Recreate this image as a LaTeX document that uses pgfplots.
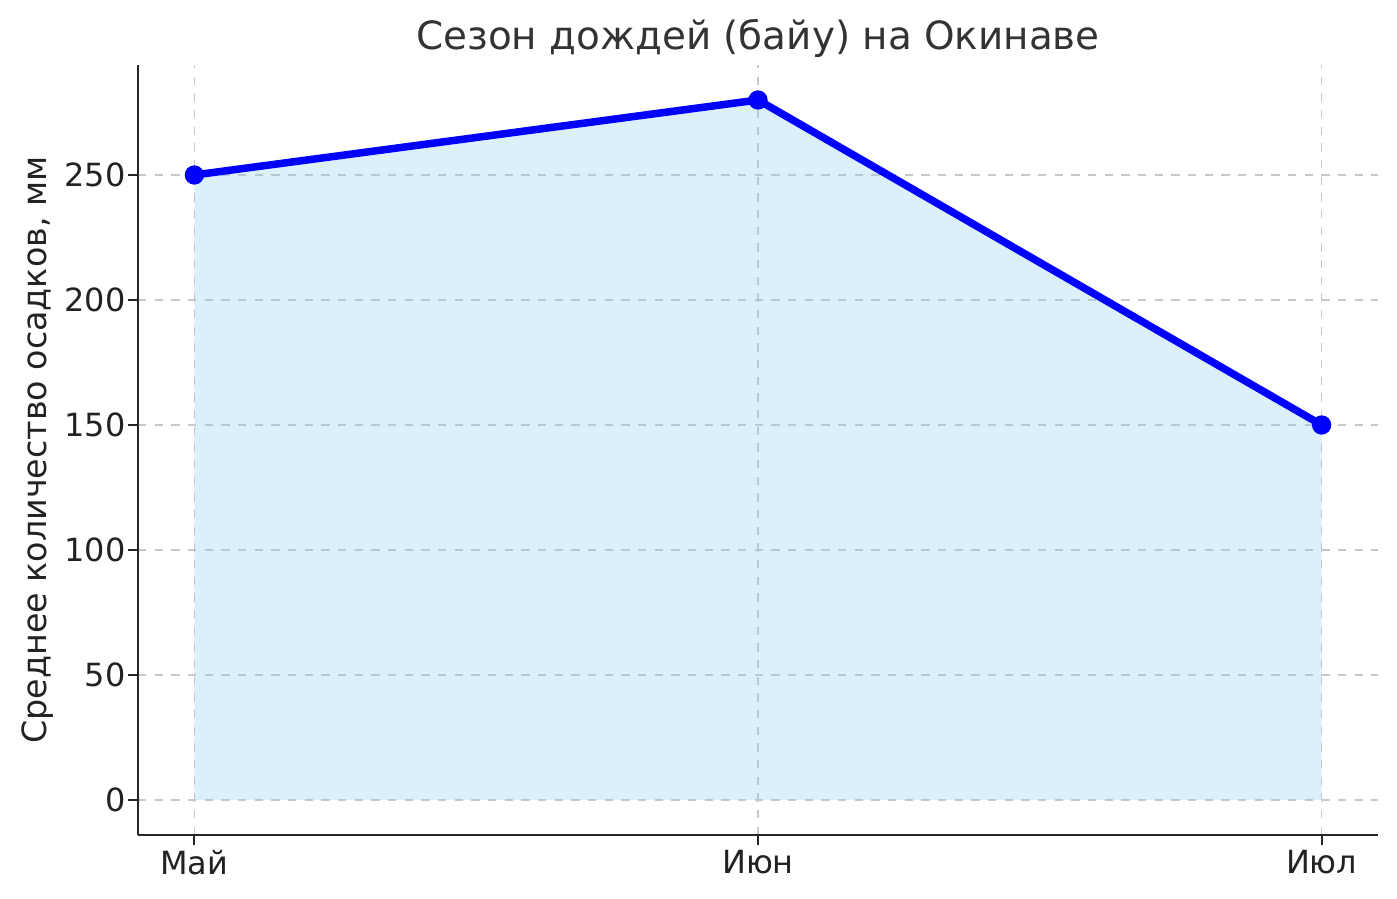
\documentclass[border=0pt]{standalone}
\usepackage{pgfplots}
\pgfplotsset{compat=1.18}
\usepackage{fontspec}
\setmainfont{DejaVu Sans}
\definecolor{sky}{RGB}{135,206,235}
\definecolor{txt}{RGB}{34,34,34}
\definecolor{gridc}{RGB}{200,200,200}
\begin{document}
\begin{tikzpicture}
\begin{axis}[
  name=ax,
  scale only axis,
  width=446.4pt, height=277.2pt,
  xmin=-0.1, xmax=2.1, ymin=-14, ymax=294,
  xtick={0,1,2}, xticklabels={Май,Июн,Июл},
  ytick={0,50,100,150,200,250},
  axis lines*=left,
  axis line style={line width=0.8pt, black!85},
  tick style={line width=0.8pt, black!85},
  tick align=outside,
  major tick length=3.5pt,
  grid=major,
  grid style={dashed, gridc, line width=0.5pt},
  tick label style={font=\fontsize{11.5}{14}\selectfont, text=txt},
  yticklabel style={xshift=2.5pt},
  xticklabel style={yshift=1.5pt},
  /pgf/number format/assume math mode=true,
  ylabel={Среднее количество осадков, мм},
  ylabel style={font=\fontsize{12}{14}\selectfont, text=txt, yshift=-3pt},
  title={Сезон дождей (байу) на Окинаве},
  title style={font=\fontsize{14}{16}\selectfont, text=black!80, yshift=-7pt},
  clip=false,
]
\addplot[draw=none, fill=sky, fill opacity=0.3] coordinates {(0,250) (1,280) (2,150)} \closedcycle;
\addplot[blue, line width=2.7pt, mark=*, mark size=2.1pt, mark options={fill=blue}] coordinates {(0,250) (1,280) (2,150)};
\end{axis}
\pgfresetboundingbox
\path ([shift={(-49.68pt,-23.04pt)}]ax.south west) rectangle ([shift={(6.84pt,23.4pt)}]ax.north east);
\end{tikzpicture}
\end{document}
